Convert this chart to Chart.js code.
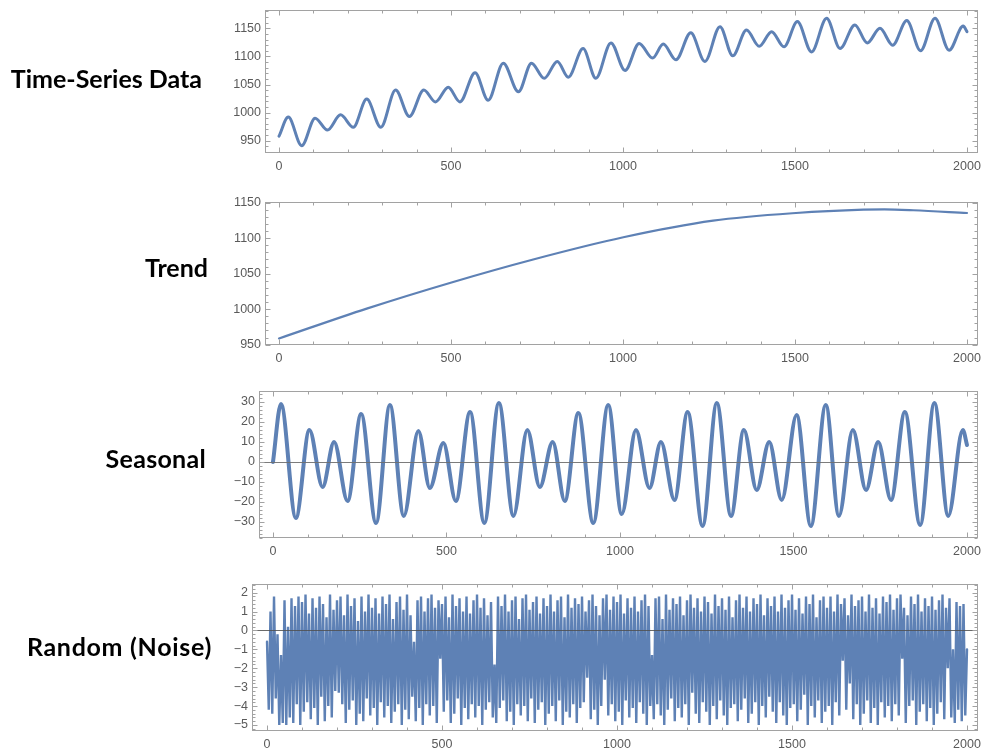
<!DOCTYPE html>
<html><head><meta charset="utf-8">
<script src="https://cdn.jsdelivr.net/npm/chart.js@4.4.1/dist/chart.umd.min.js"></script>
<style>
html,body{margin:0;padding:0;background:#fff;width:981px;height:749px;overflow:hidden;position:relative}
canvas{position:absolute;left:0}
.lbl{position:absolute;font-family:Lato,"Noto Sans",sans-serif;font-weight:700;font-size:25px;line-height:25px;color:#000;white-space:nowrap;text-align:right}
</style></head><body>
<canvas id="c1" width="981" height="185" style="top:0px"></canvas>
<canvas id="c2" width="981" height="182" style="top:188px"></canvas>
<canvas id="c3" width="981" height="190" style="top:375px"></canvas>
<canvas id="c4" width="981" height="181" style="top:568px"></canvas>
<div class="lbl" style="right:779px;top:66px">Time-Series Data</div>
<div class="lbl" style="right:773px;top:255px">Trend</div>
<div class="lbl" style="right:775px;top:446px;letter-spacing:0.3px">Seasonal</div>
<div class="lbl" style="right:769px;top:634px;letter-spacing:0.7px">Random (Noise)</div>
<script>
// ---------- data ----------
const xTickLabels = [0, 500, 1000, 1500, 2000];

const observedTicks = [950, 1000, 1050, 1100, 1150];
const observedX = [0,27,66,105,141,179,216,255,296,339,379,421,455,492,526,570,608,652,696,734,771,809,841,884,921,965,1006,1047,1086,1117,1154,1197,1238,1282,1319,1359,1396,1432,1468,1507,1548,1592,1631,1674,1710,1747,1784,1825,1865,1907,1948,1989,2000];
const observedY = [958,992,941,990,969,996,974,1024,974,1040,993,1040,1019,1045,1019,1071,1022,1088,1037,1088,1061,1091,1063,1114,1061,1124,1075,1123,1097,1122,1094,1142,1091,1153,1101,1147,1118,1144,1117,1162,1108,1168,1114,1156,1124,1150,1120,1164,1110,1168,1111,1154,1144];

const trendTicks = [950, 1000, 1050, 1100, 1150];
const trendX = [0,255,499,739,1001,1262,1503,1699,1760,1844,2000];
const trendY = [958.7,1000.8,1037.3,1070,1101.3,1124.7,1135.5,1140.2,1140.6,1139.4,1135.5];

const seasonalTicks = [-30, -20, -10, 0, 10, 20, 30];
const seasonalX = [0,23,66,105,143,176,215,254,297,337,377,419,452,491,527,568,609,651,693,733,769,806,841,880,923,966,1005,1046,1085,1118,1157,1195,1238,1279,1320,1357,1394,1430,1466,1509,1550,1593,1631,1671,1709,1744,1781,1821,1865,1906,1946,1988,2000];
const seasonalY = [0,29,-28,16,-12.5,10,-19.5,24,-30.5,28.5,-27,15.5,-13,9.5,-19.5,25,-30.5,29.5,-27,16,-12.5,10,-19.5,24.5,-30.5,28.5,-26,16,-13,10,-19,25,-32,29.5,-27,16,-14,10,-19,23.5,-32,28.5,-27,16,-14,10,-19,25,-31.5,29.5,-27,16,8.5];

const noiseTicks = [-5, -4, -3, -2, -1, 0, 1, 2];
const noiseStep = 5;
const noiseY = [
-0.6,-4.2,1.0,-4.4,1.8,-3.6,-0.2,-5.0,-1.3,-4.9,1.6,-5.0,0.2,-4.6,1.7,-4.9,1.3,-3.9,1.8,-5.0,
1.5,-4.3,1.9,-3.8,0.9,-4.7,1.7,-4.1,1.2,-5.0,1.8,-3.5,1.4,-4.8,0.7,-4.0,1.9,-4.6,1.1,-3.2,
1.6,-3.3,1.8,-3.9,0.8,-4.9,1.9,-4.2,1.3,-3.7,1.7,-5.0,0.5,-4.4,1.8,-4.8,1.0,-3.6,1.9,-4.5,
1.2,-4.1,1.7,-5.0,0.9,-3.8,1.8,-4.6,1.4,-4.0,1.9,-4.9,0.6,-4.3,1.5,-3.9,1.8,-5.0,1.1,-4.2,
1.9,-4.7,0.8,-3.5,-0.6,-4.8,1.6,-4.1,1.8,-5.0,1.0,-3.9,1.7,-4.5,1.9,-4.0,1.2,-4.9,1.6,-1.5,
1.4,-4.3,1.8,-3.7,0.7,-4.9,1.9,-4.4,1.3,-3.6,1.7,-5.0,1.0,-4.1,1.8,-4.7,0.9,-3.9,1.6,-4.6,
1.9,-4.0,1.2,-5.0,1.7,-4.2,0.8,-3.8,1.5,-4.6,-1.8,-4.9,1.8,-4.1,1.3,-3.7,1.9,-4.8,1.0,-4.3,
1.6,-5.0,1.8,-3.9,0.6,-4.5,1.7,-4.0,1.9,-4.8,1.1,-3.6,1.5,-4.9,1.8,-4.2,0.9,-3.8,1.7,-5.0,
1.3,-4.4,1.9,-4.0,1.0,-4.8,1.6,-3.7,1.8,-5.0,0.7,-4.3,1.9,-4.6,1.2,-3.9,1.7,-4.9,1.4,-4.1,
1.8,-3.8,1.0,-2.5,1.6,-4.7,1.9,-4.2,1.3,-5.0,0.8,-4.0,1.7,-2.6,1.9,-4.5,1.1,-3.9,1.8,-4.8,
1.5,-4.3,1.9,-5.0,0.9,-3.7,1.7,-4.6,1.2,-4.1,1.8,-4.9,1.0,-3.8,1.6,-4.4,1.9,-5.0,1.3,-4.0,
-1.3,-4.7,1.7,-3.9,1.8,-4.5,0.6,-5.0,1.9,-4.2,1.1,-3.6,1.7,-4.8,1.4,-4.1,1.8,-4.6,0.8,-3.9,
1.6,-5.0,1.9,-3.3,1.2,-4.4,1.7,-4.9,1.0,-3.8,1.8,-4.3,1.5,-5.0,0.9,-4.0,1.9,-4.7,1.3,-3.7,
1.7,-4.5,1.1,-5.0,1.8,-4.1,0.7,-3.9,1.6,-4.8,1.9,-4.2,1.2,-3.6,1.8,-4.9,1.0,-4.4,1.7,-3.8,
1.4,-5.0,1.9,-4.0,0.8,-4.6,1.7,-3.5,1.3,-4.3,1.8,-4.9,1.0,-3.8,1.9,-4.5,1.2,-5.0,1.6,-4.1,
1.9,-3.9,1.1,-4.8,1.7,-4.2,0.9,-3.4,1.8,-5.0,1.4,-4.0,1.9,-4.6,0.7,-3.7,1.6,-4.9,1.8,-4.3,
1.2,-4.0,1.8,-5.0,1.0,-3.8,1.9,-4.5,1.4,-1.6,1.7,-4.2,0.8,-2.8,1.9,-4.7,1.3,-3.9,1.6,-5.0,
1.8,-4.4,1.0,-3.7,1.9,-4.9,1.2,-4.1,1.7,-5.0,0.9,-3.8,1.8,-4.6,1.5,-4.0,1.9,-4.8,1.1,-3.9,
1.7,-4.5,1.9,-1.5,1.2,-4.9,0.8,-4.0,1.8,-3.7,1.4,-5.0,1.9,-4.3,1.0,-3.9,1.7,-4.8,1.3,-4.1,
1.8,-5.0,1.1,-4.4,1.6,-3.8,1.9,-4.7,1.2,-2.0,1.7,-4.6,-1.0,-4.9,1.5,-4.2,1.3,-4.8,1.4,-4.5,
-1.0];

// ---------- drawing ----------
const BLUE = 'rgb(94,129,181)';
const FRAME = '#a2a2a2';
const TICKFONT = {family: '"Liberation Sans", Arial, sans-serif', size: 12.5};
const fmt = v => (v < 0 ? '\u2212' + Math.abs(v) : String(v));

const framePlugin = {
  id: 'frame',
  afterDatasetsDraw(chart, args, o) {
    const {ctx, chartArea: a, scales: {x, y}} = chart;
    ctx.save();
    if (o.zeroLine) {
      const zy = Math.round(y.getPixelForValue(0)) + 0.5;
      ctx.strokeStyle = o.zeroColor; ctx.lineWidth = 1;
      ctx.beginPath(); ctx.moveTo(a.left, zy); ctx.lineTo(a.right, zy); ctx.stroke();
    }
    ctx.strokeStyle = FRAME; ctx.lineWidth = 1;
    const L = Math.round(a.left) + 0.5, R = Math.round(a.right) - 0.5;
    const T = Math.round(a.top) + 0.5, B = Math.round(a.bottom) - 0.5;
    ctx.strokeRect(L, T, R - L, B - T);
    ctx.beginPath();
    const eps = 1e-9;
    for (let v = Math.ceil(x.min / o.xMinor) * o.xMinor; v <= x.max; v += o.xMinor) {
      const major = Math.abs(v / o.xMajor - Math.round(v / o.xMajor)) < eps;
      const len = major ? 5 : 3;
      const px = Math.round(x.getPixelForValue(v)) + 0.5;
      ctx.moveTo(px, B); ctx.lineTo(px, B - len);
      ctx.moveTo(px, T); ctx.lineTo(px, T + len);
    }
    const n0 = Math.ceil(y.min / o.yMinor - eps), n1 = Math.floor(y.max / o.yMinor + eps);
    for (let n = n0; n <= n1; n++) {
      const v = n * o.yMinor;
      const r = v / o.yMajor;
      const major = Math.abs(r - Math.round(r)) < 1e-6;
      const len = major ? 5 : 3;
      const py = Math.round(y.getPixelForValue(v)) + 0.5;
      ctx.moveTo(L, py); ctx.lineTo(L + len, py);
      ctx.moveTo(R, py); ctx.lineTo(R - len, py);
    }
    ctx.stroke();
    ctx.restore();
  }
};

function makePanel(id, p) {
  const canvas = document.getElementById(id);
  const H = canvas.height;
  const data = p.xs.map((xv, i) => ({x: xv, y: p.ys[i]}));
  new Chart(canvas, {
    type: 'line',
    data: {datasets: [{
      data, borderColor: BLUE, borderWidth: p.lw, pointRadius: 0, fill: false,
      cubicInterpolationMode: p.smooth ? 'monotone' : 'default', tension: 0,
      borderJoinStyle: p.join || 'round', borderCapStyle: 'round'
    }]},
    options: {
      responsive: false, animation: false, events: [],
      layout: {padding: {left: 0, right: 981 - p.frameRight, top: p.frameTop - p.canvasTop, bottom: 0}},
      plugins: {legend: {display: false}, tooltip: {enabled: false},
        frame: {xMajor: 500, xMinor: 100, yMajor: p.yMajor, yMinor: p.yMinor, zeroLine: p.zeroLine, zeroColor: p.zeroColor}},
      scales: {
        x: {
          type: 'linear', min: p.xMin, max: p.xMax,
          grid: {display: false, drawTicks: false}, border: {display: false},
          ticks: {font: TICKFONT, color: '#5a5a5a', padding: 6, autoSkip: false, maxRotation: 0, callback: v => fmt(v)},
          afterBuildTicks: s => { s.ticks = xTickLabels.map(v => ({value: v})); },
          afterFit: s => { s.height = H - (p.frameBottom - p.canvasTop); s.paddingLeft = 0; s.paddingRight = 0; }
        },
        y: {
          type: 'linear', min: p.yMin, max: p.yMax,
          grid: {display: false, drawTicks: false}, border: {display: false},
          ticks: {font: TICKFONT, color: '#5a5a5a', padding: 4, autoSkip: false, callback: v => fmt(v)},
          afterBuildTicks: s => { s.ticks = p.yTicks.map(v => ({value: v})); },
          afterFit: s => { s.width = p.frameLeft; s.paddingTop = 0; s.paddingBottom = 0; }
        }
      }
    },
    plugins: [framePlugin]
  });
}

makePanel('c1', {canvasTop: 0, frameTop: 10, frameBottom: 153, frameLeft: 265, frameRight: 978,
  xMin: -40.7, xMax: 2032, yMin: 928.1, yMax: 1182.6, yTicks: observedTicks, yMajor: 50, yMinor: 10,
  xs: observedX, ys: observedY, lw: 3, smooth: true});
makePanel('c2', {canvasTop: 188, frameTop: 202, frameBottom: 345, frameLeft: 265, frameRight: 978,
  xMin: -40.7, xMax: 2032, yMin: 949.5, yMax: 1151, yTicks: trendTicks, yMajor: 50, yMinor: 10,
  xs: trendX, ys: trendY, lw: 2.2, smooth: true});
makePanel('c3', {canvasTop: 375, frameTop: 391, frameBottom: 538, frameLeft: 259, frameRight: 978,
  xMin: -40.3, xMax: 2031.7, yMin: -38, yMax: 35.5, yTicks: seasonalTicks, yMajor: 10, yMinor: 2,
  xs: seasonalX, ys: seasonalY, lw: 4, smooth: true, zeroLine: true, zeroColor: 'rgba(110,110,110,0.9)'});
makePanel('c4', {canvasTop: 568, frameTop: 584, frameBottom: 731, frameLeft: 252, frameRight: 978,
  xMin: -42.9, xMax: 2031.4, yMin: -5.32, yMax: 2.46, yTicks: noiseTicks, yMajor: 1, yMinor: 0.2,
  xs: noiseY.map((_, i) => i * noiseStep), ys: noiseY, lw: 2.4, smooth: false, join: 'miter', zeroLine: true, zeroColor: 'rgba(80,80,80,0.85)'});
</script>
</body></html>
